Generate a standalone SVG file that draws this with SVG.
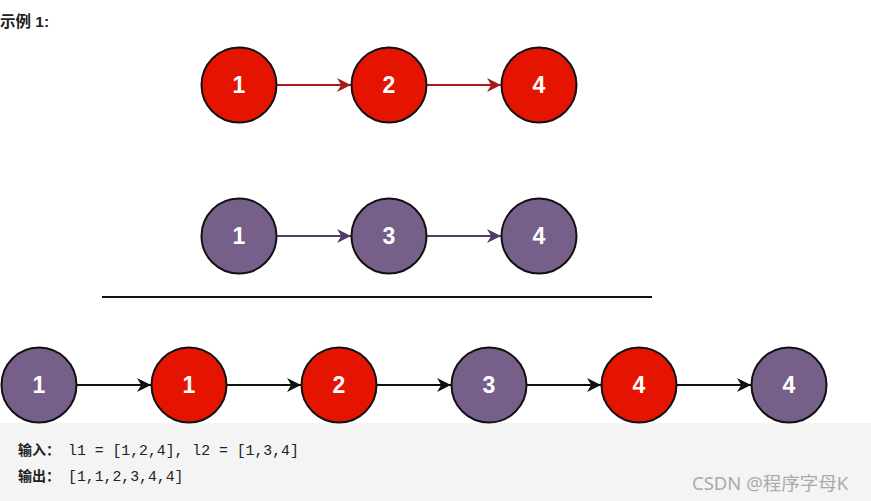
<svg xmlns="http://www.w3.org/2000/svg" width="871" height="501" viewBox="0 0 871 501">
<style>
.red{fill:#e51400;stroke:#111;stroke-width:2}
.pur{fill:#76608a;stroke:#111;stroke-width:2}
.lbl{font-family:"Liberation Sans",Arial,sans-serif;font-weight:bold;font-size:23px;fill:#fff;text-anchor:middle}
.cr{stroke:#a51b20;stroke-width:2;fill:none}
.cp{stroke:#4f3d68;stroke-width:2;fill:none}
.ck{stroke:#111;stroke-width:2;fill:none}
.code{font-family:"Liberation Mono","DejaVu Sans Mono",monospace;font-size:14.8px;fill:#222}
.cjk{font-family:"Liberation Sans","Noto Sans CJK SC",sans-serif;font-weight:bold;font-size:14px;fill:#222}
</style>
<defs>
<marker id="ar" viewBox="0 0 10 10" refX="10" refY="5" markerWidth="7" markerHeight="7" orient="auto"><path d="M0,0 L10,5 L0,10 L3,5 z" fill="#a51b20"/></marker>
<marker id="ap" viewBox="0 0 10 10" refX="10" refY="5" markerWidth="7" markerHeight="7" orient="auto"><path d="M0,0 L10,5 L0,10 L3,5 z" fill="#4f3d68"/></marker>
<marker id="ak" viewBox="0 0 10 10" refX="10" refY="5" markerWidth="7" markerHeight="7" orient="auto"><path d="M0,0 L10,5 L0,10 L3,5 z" fill="#111"/></marker>
</defs>
<rect x="0" y="0" width="871" height="501" fill="#fff"/>
<text x="0" y="27" class="cjk" style="font-size:15.5px">示例 1:</text>

<g id="connectors">
<line x1="277" y1="85" x2="351" y2="85" class="cr" marker-end="url(#ar)"/>
<line x1="427" y1="85" x2="501" y2="85" class="cr" marker-end="url(#ar)"/>
<line x1="277" y1="236" x2="351" y2="236" class="cp" marker-end="url(#ap)"/>
<line x1="427" y1="236" x2="501" y2="236" class="cp" marker-end="url(#ap)"/>
<line x1="77" y1="385" x2="151" y2="385" class="ck" marker-end="url(#ak)"/>
<line x1="227" y1="385" x2="301" y2="385" class="ck" marker-end="url(#ak)"/>
<line x1="377" y1="385" x2="451" y2="385" class="ck" marker-end="url(#ak)"/>
<line x1="527" y1="385" x2="601" y2="385" class="ck" marker-end="url(#ak)"/>
<line x1="677" y1="385" x2="751" y2="385" class="ck" marker-end="url(#ak)"/>
</g>

<g id="a1"><circle cx="239" cy="85" r="37.5" class="red"/><text x="239" y="93" class="lbl">1</text></g>
<g id="a2"><circle cx="389" cy="85" r="37.5" class="red"/><text x="389" y="93" class="lbl">2</text></g>
<g id="a3"><circle cx="539" cy="85" r="37.5" class="red"/><text x="539" y="93" class="lbl">4</text></g>

<g id="b1"><circle cx="239" cy="236" r="37.5" class="pur"/><text x="239" y="244" class="lbl">1</text></g>
<g id="b2"><circle cx="389" cy="236" r="37.5" class="pur"/><text x="389" y="244" class="lbl">3</text></g>
<g id="b3"><circle cx="539" cy="236" r="37.5" class="pur"/><text x="539" y="244" class="lbl">4</text></g>

<line x1="102" y1="297" x2="652" y2="297" stroke="#111" stroke-width="2"/>

<rect x="0" y="423" width="871" height="78" fill="#f4f4f4"/>

<g id="c1"><circle cx="39" cy="385" r="37.5" class="pur"/><text x="39" y="393" class="lbl">1</text></g>
<g id="c2"><circle cx="189" cy="385" r="37.5" class="red"/><text x="189" y="393" class="lbl">1</text></g>
<g id="c3"><circle cx="339" cy="385" r="37.5" class="red"/><text x="339" y="393" class="lbl">2</text></g>
<g id="c4"><circle cx="489" cy="385" r="37.5" class="pur"/><text x="489" y="393" class="lbl">3</text></g>
<g id="c5"><circle cx="639" cy="385" r="37.5" class="red"/><text x="639" y="393" class="lbl">4</text></g>
<g id="c6"><circle cx="789" cy="385" r="37.5" class="pur"/><text x="789" y="393" class="lbl">4</text></g>

<text x="18" y="455" class="cjk">输入：</text>
<text x="68" y="455" class="code">l1 = [1,2,4], l2 = [1,3,4]</text>
<text x="18" y="481" class="cjk">输出：</text>
<text x="68" y="481" class="code">[1,1,2,3,4,4]</text>

<text x="692" y="490" font-family="'Noto Sans','Noto Sans CJK SC',sans-serif" font-size="18.5" fill="#aaa">CSDN @程序字母K</text>
</svg>
